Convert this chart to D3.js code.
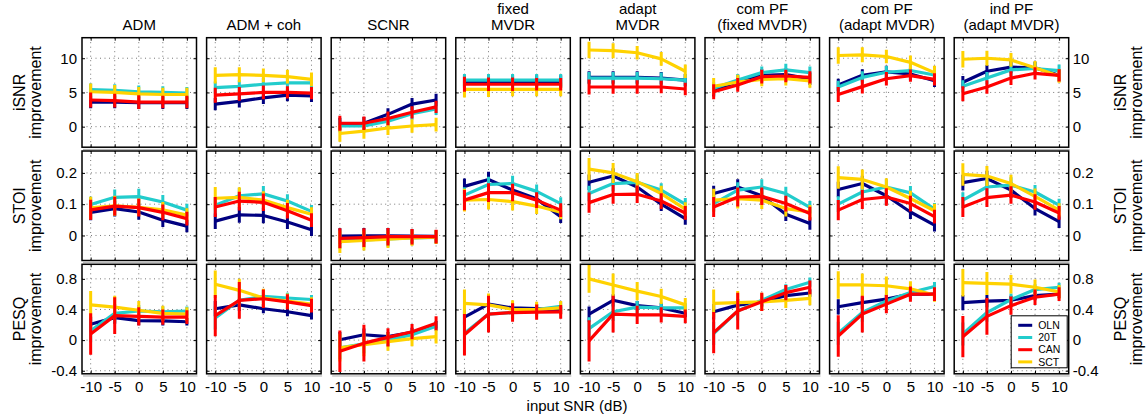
<!DOCTYPE html>
<html>
<head>
<meta charset="utf-8">
<script src="https://cdn.jsdelivr.net/npm/d3@7"></script>
<style>
body { margin: 0; background: #fff; }
svg { display: block; font-family: "Liberation Sans", Arial, Helvetica, sans-serif; }
</style>
</head>
<body>
<svg width="1146" height="417"></svg>
<script>
var snr = [-10, -5, 0, 5, 10];
var titles = [["ADM"], ["ADM + coh"], ["SCNR"], ["fixed", "MVDR"], ["adapt", "MVDR"],
	["com PF", "(fixed MVDR)"], ["com PF", "(adapt MVDR)"], ["ind PF", "(adapt MVDR)"]];
var seriesNames = ["OLN", "20T", "CAN", "SCT"];
var seriesColors = ["#000080", "#22cccc", "#ff0000", "#ffd200"];
var drawOrder = [0, 1, 3, 2];
var metricLabels = ["iSNR", "STOI", "PESQ"];
var yTicks = [[0, 5, 10], [0, 0.1, 0.2], [-0.4, 0, 0.4, 0.8]];
var yDomains = [[-3, 13], [-0.08, 0.27], [-0.44, 0.99]];

// iSNR improvement, one row per method
var isnrOLN = [[3.6,3.6,3.5,3.5,3.5],[3.3,3.7,4.2,4.6,4.5],[0.4,0.5,1.8,3.3,3.9],[6.6,6.6,6.6,6.6,6.6],
	[7.2,7.2,7.2,7.1,6.8],[5.3,6.6,7.5,7.6,7.0],[6.1,7.5,8.0,7.7,6.7],[6.5,8.1,8.7,8.6,7.5]];
var isnr20T = [[5.4,5.3,5.1,5.0,4.9],[5.7,5.9,6.2,6.4,6.4],[0.1,0.1,0.8,1.9,2.6],[6.8,6.8,6.8,6.8,6.8],
	[7.1,7.1,7.1,7.0,6.8],[5.6,6.8,7.9,8.3,7.9],[5.8,7.2,7.95,8.2,7.55],[5.9,7.1,8.3,8.5,8.2]];
var isnrCAN = [[3.9,3.8,3.6,3.6,3.6],[4.6,4.8,5.0,5.0,4.9],[0.5,0.5,1.2,2.1,2.9],[6.2,6.2,6.2,6.2,6.2],
	[5.8,5.8,5.8,5.8,5.5],[5.1,6.1,7.3,7.4,7.2],[4.7,5.85,7.0,7.45,6.9],[4.8,5.8,7.1,7.8,7.5]];
var isnrSCT = [[5.1,5.0,4.8,4.7,4.7],[7.5,7.6,7.5,7.3,6.9],[-1.0,-0.65,-0.2,0.1,0.3],[5.45,5.45,5.45,5.45,5.45],
	[11.2,11.1,10.8,9.9,8.1],[5.9,6.5,6.9,7.0,6.7],[10.4,10.5,10.25,9.4,7.9],[9.85,10.0,9.75,8.6,7.4]];

// STOI improvement
var stoiOLN = [[0.074,0.086,0.075,0.049,0.03],[0.046,0.066,0.064,0.043,0.018],[-0.002,-0.001,-0.001,-0.002,-0.003],
	[0.157,0.179,0.145,0.117,0.06],[0.17,0.19,0.155,0.1,0.054],[0.134,0.155,0.127,0.068,0.038],
	[0.147,0.166,0.127,0.075,0.033],[0.169,0.182,0.145,0.086,0.044]];
var stoi20T = [[0.099,0.122,0.124,0.107,0.081],[0.097,0.127,0.133,0.11,0.077],[-0.017,-0.014,-0.011,-0.008,-0.006],
	[0.129,0.163,0.166,0.141,0.102],[0.134,0.166,0.17,0.145,0.1],[0.102,0.145,0.155,0.134,0.09],
	[0.1,0.139,0.155,0.136,0.084],[0.113,0.155,0.161,0.139,0.097]];
var stoiCAN = [[0.082,0.094,0.089,0.074,0.054],[0.091,0.11,0.106,0.079,0.049],[-0.009,-0.007,-0.004,-0.004,-0.004],
	[0.113,0.137,0.137,0.113,0.081],[0.105,0.131,0.132,0.11,0.072],[0.091,0.123,0.125,0.102,0.07],
	[0.081,0.115,0.123,0.102,0.06],[0.091,0.121,0.129,0.107,0.072]];
var stoiSCT = [[0.088,0.095,0.09,0.082,0.065],[0.119,0.122,0.113,0.089,0.068],[-0.02,-0.016,-0.012,-0.008,-0.005],
	[0.113,0.115,0.108,0.094,0.074],[0.212,0.2,0.172,0.134,0.084],[0.113,0.118,0.113,0.086,0.075],
	[0.185,0.179,0.155,0.118,0.079],[0.195,0.19,0.166,0.125,0.081]];

// PESQ improvement
var pesqOLN = [[0.206,0.294,0.254,0.25,0.24],[0.41,0.46,0.41,0.37,0.32],[0.005,0.07,0.045,0.1,0.2],
	[0.3,0.47,0.42,0.41,0.39],[0.34,0.52,0.45,0.42,0.35],[0.37,0.457,0.5,0.58,0.615],
	[0.435,0.49,0.536,0.6,0.6],[0.49,0.51,0.52,0.58,0.6]];
var pesq20T = [[0.123,0.35,0.38,0.37,0.38],[0.29,0.52,0.57,0.55,0.53],[-0.1,-0.05,0.0,0.07,0.18],
	[0.09,0.34,0.36,0.4,0.44],[0.15,0.37,0.43,0.42,0.42],[0.085,0.38,0.52,0.66,0.756],
	[0.09,0.36,0.51,0.62,0.7],[0.08,0.36,0.53,0.66,0.69]];
var pesqCAN = [[0.08,0.32,0.31,0.3,0.3],[0.32,0.52,0.54,0.5,0.45],[-0.145,-0.04,0.035,0.11,0.22],
	[0.07,0.34,0.36,0.365,0.37],[-0.01,0.34,0.33,0.33,0.31],[0.097,0.38,0.5,0.62,0.69],
	[0.053,0.34,0.47,0.6,0.6],[0.045,0.31,0.45,0.56,0.6]];
var pesqSCT = [[0.46,0.43,0.39,0.35,0.34],[0.73,0.65,0.55,0.51,0.47],[-0.1,-0.06,-0.02,0.02,0.045],
	[0.48,0.46,0.4,0.4,0.42],[0.8,0.72,0.64,0.57,0.46],[0.48,0.49,0.5,0.52,0.545],
	[0.72,0.72,0.71,0.67,0.59],[0.75,0.74,0.73,0.69,0.63]];

// error bar half widths per snr (same for every method)
var isnrErr = [[0.9,0.9,0.9,0.9,0.9],[0.9,0.9,0.9,0.9,0.9],[1.1,1.0,1.0,0.9,0.9],[1.2,1.1,1.0,1.0,1.0]];
var stoiErr = [[0.025,0.025,0.025,0.022,0.02],[0.025,0.025,0.025,0.022,0.02],[0.032,0.03,0.028,0.025,0.022],[0.036,0.032,0.028,0.025,0.022]];
var pesqErr = [[0.1,0.08,0.06,0.06,0.05],[0.15,0.12,0.08,0.07,0.06],[0.27,0.24,0.12,0.1,0.09],[0.18,0.15,0.12,0.1,0.09]];

var metricData = [[isnrOLN, isnr20T, isnrCAN, isnrSCT], [stoiOLN, stoi20T, stoiCAN, stoiSCT], [pesqOLN, pesq20T, pesqCAN, pesqSCT]];
var metricErr = [isnrErr, stoiErr, pesqErr];

var svg = d3.select("svg");
var colX0 = 82, colStep = 124.6, pw = 114.5;
var rowY0 = 37.7, rowStep = 113.3, ph = 109.5;
var nCols = titles.length;

var x = d3.scaleLinear().domain([-11.8, 12]).range([0, pw]);

function tr(a, b) {
	return "translate(" + a + "," + b + ")";
}

svg.append("defs").append("clipPath").attr("id", "panelClip")
	.append("rect").attr("width", pw).attr("height", ph);

function styleAxis(g) {
	g.select(".domain").remove();
	g.selectAll(".tick line").attr("stroke", "#000").attr("stroke-width", 1);
	g.selectAll(".tick text").attr("fill", "#000").attr("font-size", 15)
		.attr("font-family", "Liberation Sans, Arial, sans-serif");
}

for (var r = 0; r < 3; r++) {
	var y = d3.scaleLinear().domain(yDomains[r]).range([ph, 0]);
	for (var c = 0; c < nCols; c++) {
		var g = svg.append("g").attr("transform", tr(colX0 + c * colStep, rowY0 + r * rowStep));

		// faint shadow under the box
		g.append("line").attr("x1", 1).attr("x2", pw + 1).attr("y1", ph + 2.2).attr("y2", ph + 2.2)
			.attr("stroke", "#aaa").attr("stroke-width", 1);

		var grid = g.append("g").attr("stroke", "#777").attr("stroke-width", 1).attr("stroke-dasharray", "1,3.5");
		grid.selectAll(".vx").data(snr).enter().append("line")
			.attr("x1", function (d) { return x(d); }).attr("x2", function (d) { return x(d); })
			.attr("y1", 0).attr("y2", ph);
		grid.selectAll(".hy").data(yTicks[r]).enter().append("line")
			.attr("x1", 0).attr("x2", pw)
			.attr("y1", function (d) { return y(d); }).attr("y2", function (d) { return y(d); });

		var fmt = function (d) { return String(d); };
		g.append("g").call(d3.axisLeft(y).tickValues(yTicks[r]).tickSize(-3).tickPadding(5)
			.tickFormat(c == 0 ? fmt : "")).call(styleAxis);
		g.append("g").attr("transform", tr(pw, 0)).call(d3.axisRight(y).tickValues(yTicks[r]).tickSize(-3).tickPadding(4)
			.tickFormat(c == nCols - 1 ? fmt : "")).call(styleAxis);
		g.append("g").attr("transform", tr(0, ph)).call(d3.axisBottom(x).tickValues(snr).tickSize(-3).tickPadding(7.5)
			.tickFormat(r == 2 ? fmt : "")).call(styleAxis);
		g.append("g").call(d3.axisTop(x).tickValues(snr).tickSize(-3).tickFormat("")).call(styleAxis);

		var plot = g.append("g").attr("clip-path", "url(#panelClip)");
		drawOrder.forEach(function (s) {
			var vals = metricData[r][s][c];
			var errs = metricErr[r][s];
			var pts = snr.map(function (d, i) { return { x: d, v: vals[i], e: errs[i] }; });
			var line = d3.line().x(function (d) { return x(d.x); }).y(function (d) { return y(d.v); });
			plot.append("path").datum(pts).attr("d", line)
				.attr("fill", "none").attr("stroke", seriesColors[s]).attr("stroke-width", 3.2)
				.attr("stroke-linejoin", "round");
			plot.selectAll(null).data(pts).enter().append("line")
				.attr("x1", function (d) { return x(d.x); }).attr("x2", function (d) { return x(d.x); })
				.attr("y1", function (d) { return y(d.v - d.e); }).attr("y2", function (d) { return y(d.v + d.e); })
				.attr("stroke", seriesColors[s]).attr("stroke-width", 3);
		});

		g.append("rect").attr("width", pw).attr("height", ph)
			.attr("fill", "none").attr("stroke", "#000").attr("stroke-width", 1.5);

		if (r == 0) {
			var t = titles[c];
			t.forEach(function (txt, i) {
				svg.append("text").attr("x", colX0 + c * colStep + pw / 2)
					.attr("y", 29.5 - (t.length - 1 - i) * 15.5)
					.attr("text-anchor", "middle").attr("font-size", 15).text(txt);
			});
		}
	}

	// row labels on both sides
	var cy = rowY0 + r * rowStep + ph / 2;
	[25, 1126].forEach(function (lx) {
		var lab = svg.append("g").attr("transform", tr(lx, cy) + " rotate(-90)");
		lab.append("text").attr("text-anchor", "middle").attr("font-size", 16).text(metricLabels[r]);
		lab.append("text").attr("y", 15.5).attr("text-anchor", "middle").attr("font-size", 16).text("improvement");
	});
}

svg.append("text").attr("x", 577).attr("y", 411).attr("text-anchor", "middle")
	.attr("font-size", 15).text("input SNR (dB)");

// legend inside the last PESQ panel
var lx0 = colX0 + (nCols - 1) * colStep + pw - 57.5;
var ly0 = rowY0 + 2 * rowStep + ph - 58;
var legend = svg.append("g").attr("transform", tr(lx0, ly0));
legend.append("rect").attr("width", 56).attr("height", 52)
	.attr("fill", "#fff").attr("stroke", "#000").attr("stroke-width", 1);
seriesNames.forEach(function (name, i) {
	var yy = 9.5 + i * 12.2;
	legend.append("line").attr("x1", 7).attr("x2", 21).attr("y1", yy).attr("y2", yy)
		.attr("stroke", seriesColors[i]).attr("stroke-width", 3);
	legend.append("text").attr("x", 27).attr("y", yy + 3.8).attr("font-size", 10.5).text(name);
});
</script>
</body>
</html>
